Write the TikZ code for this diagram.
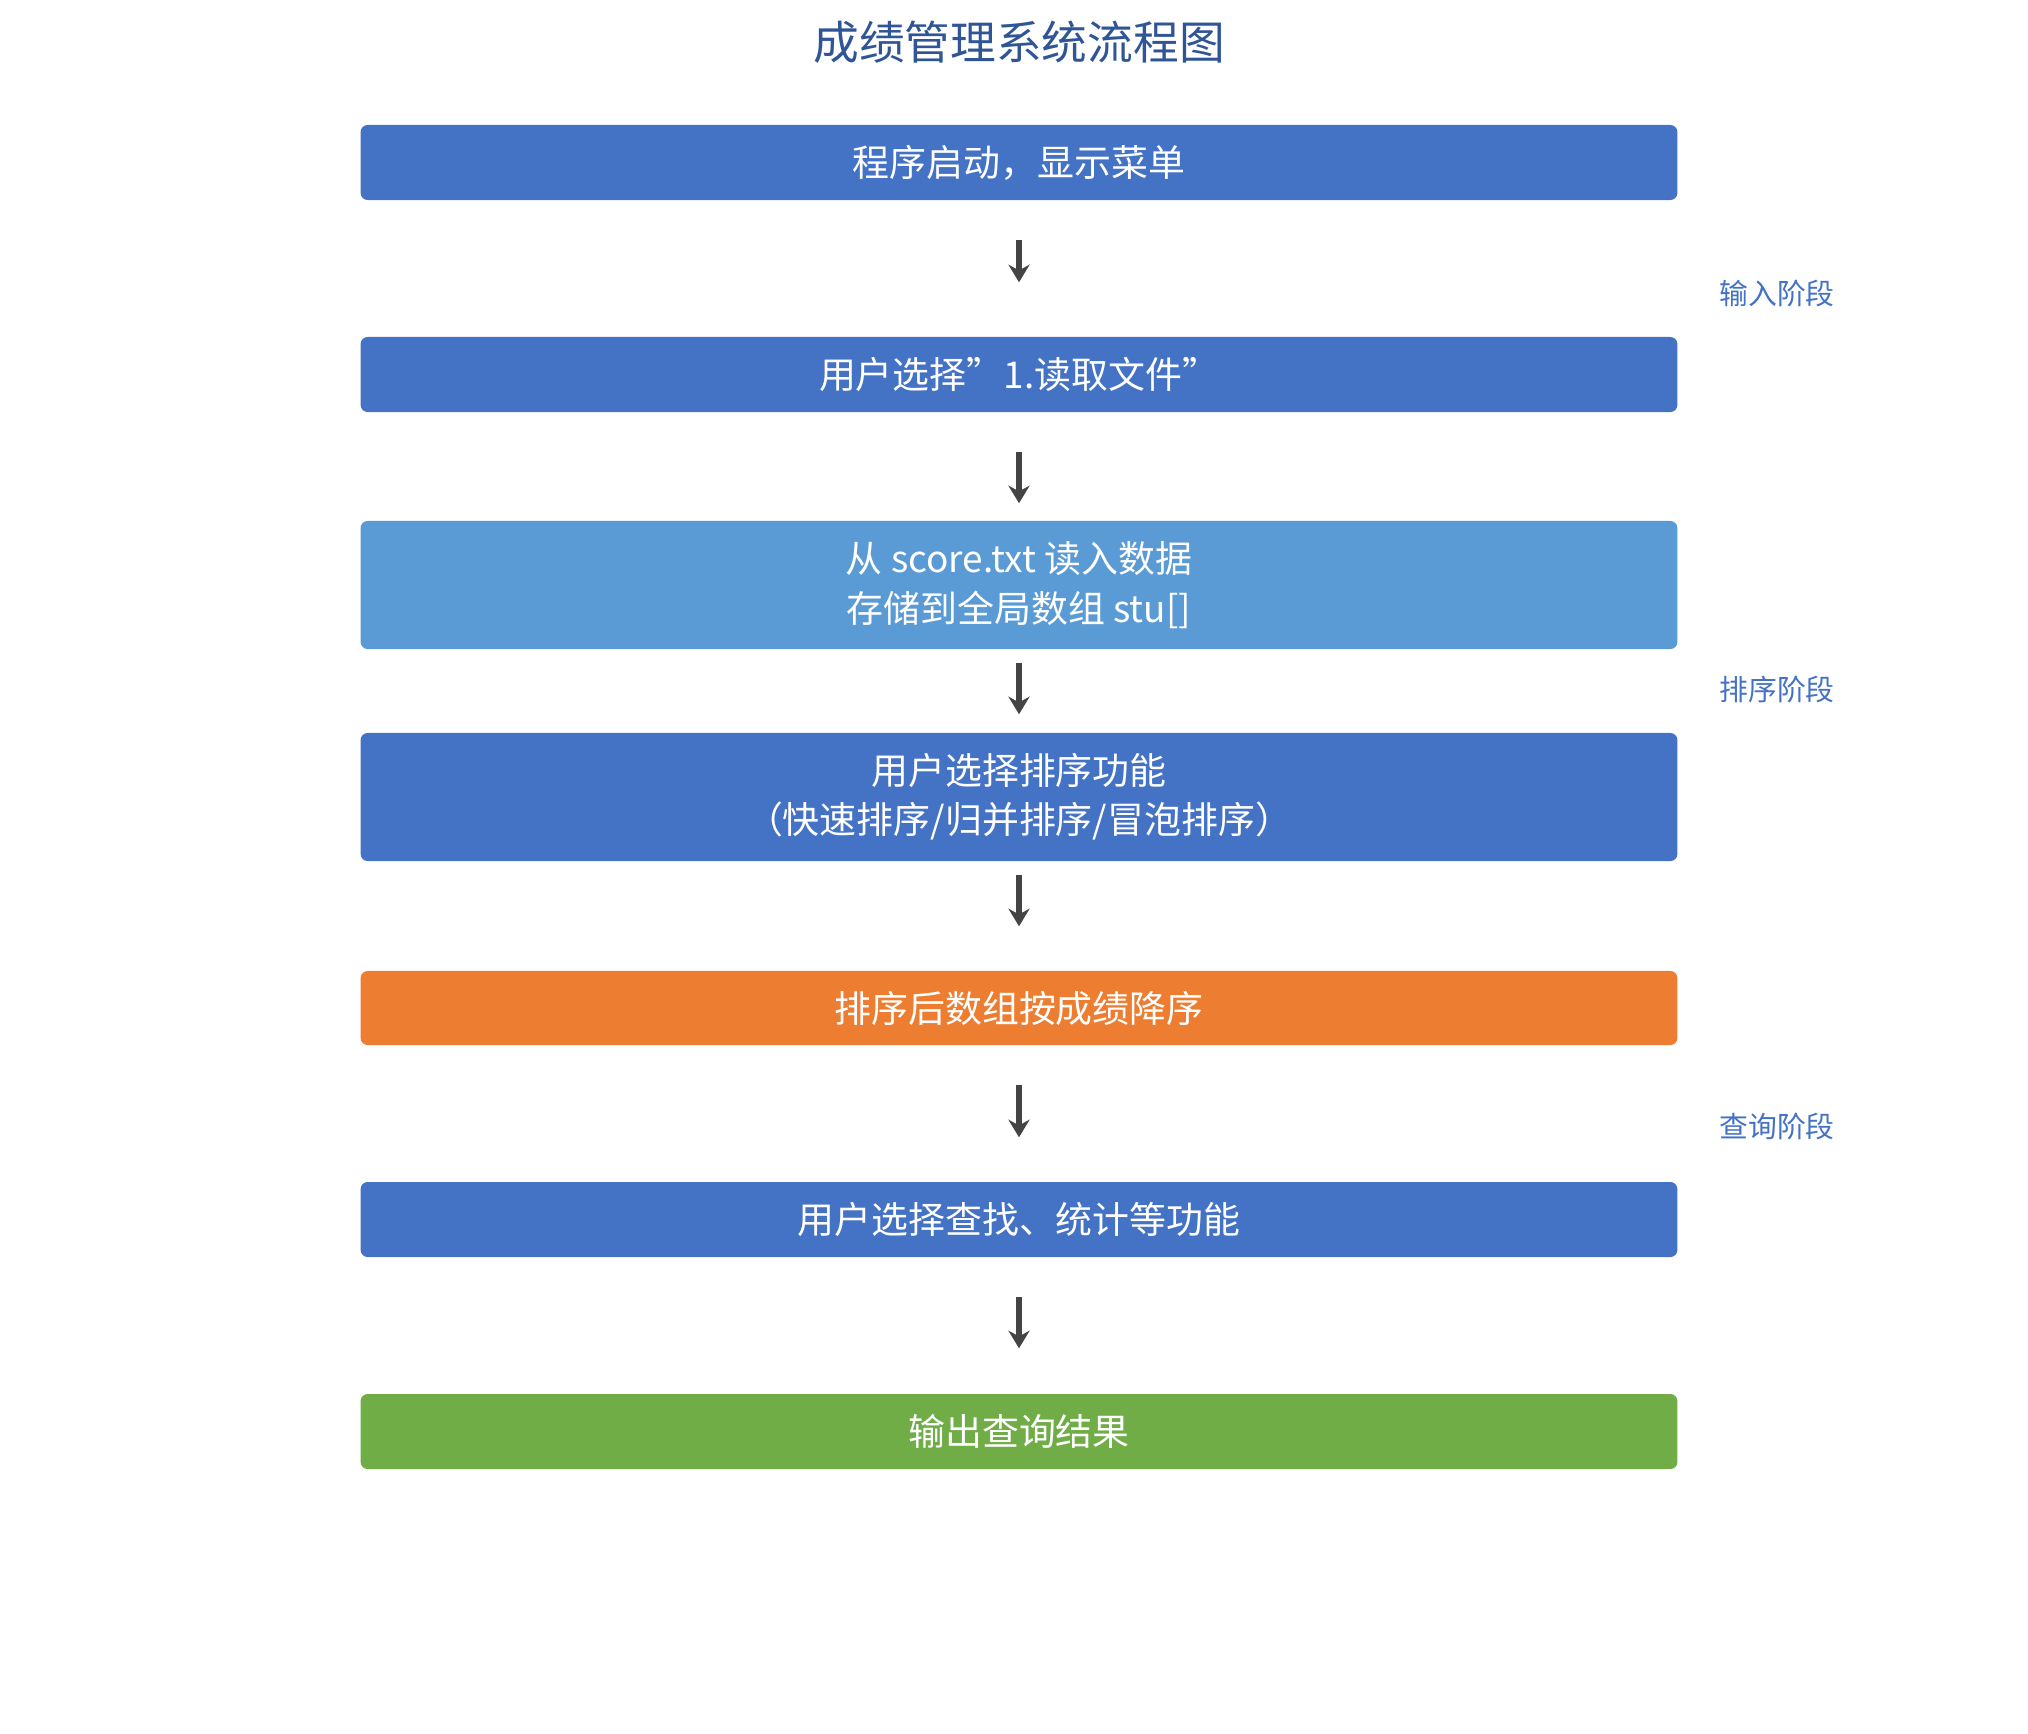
\documentclass[tikz,border=0pt]{standalone}
\usepackage{fontspec}
\setmainfont{Noto Sans CJK SC}
\usetikzlibrary{arrows.meta,calc}
\definecolor{cblue}{HTML}{4472C4}
\definecolor{clblue}{HTML}{5B9BD5}
\definecolor{corange}{HTML}{ED7D31}
\definecolor{cgreen}{HTML}{70AD47}
\definecolor{ctitle}{HTML}{2F5597}
\definecolor{carrow}{HTML}{444444}
\begin{document}
\begin{tikzpicture}[x=0.01cm,y=-0.01cm,
  box/.style={draw=none,rounded corners=2pt,minimum width=13.16cm,text=white,align=center,font=\fontsize{10.5pt}{14pt}\selectfont,inner sep=0pt},
  lab/.style={text=cblue,font=\fontsize{8.2pt}{10pt}\selectfont},
  arr/.style={-{Stealth[length=5pt,width=6pt]},line width=1.6pt,draw=carrow}]
\useasboundingbox (0,0) rectangle (2028,1733);
\node[text=ctitle,font=\fontsize{13pt}{16pt}\selectfont] (title) at (1019,42) {成绩管理系统流程图};
\node[box,fill=cblue,minimum height=0.75cm] (b1) at (1019,162.5) {程序启动，显示菜单};
\node[box,fill=cblue,minimum height=0.75cm] (b2) at (1019,374.5) {用户选择"1.读取文件"};
\node[box,fill=clblue,minimum height=1.28cm] (b3) at (1019,585) {从 score.txt 读入数据\\存储到全局数组 stu[]};
\node[box,fill=cblue,minimum height=1.28cm] (b4) at (1019,797) {用户选择排序功能\\（快速排序/归并排序/冒泡排序）};
\node[box,fill=corange,minimum height=0.74cm] (b5) at (1019,1008) {排序后数组按成绩降序};
\node[box,fill=cblue,minimum height=0.75cm] (b6) at (1019,1219.5) {用户选择查找、统计等功能};
\node[box,fill=cgreen,minimum height=0.75cm] (b7) at (1019,1431.5) {输出查询结果};
\node[lab] (l1) at (1777,294) {输入阶段};
\node[lab] (l2) at (1777,690) {排序阶段};
\node[lab] (l3) at (1777,1126) {查询阶段};
\foreach \a/\b/\ga/\gb in {b1/b2/39/54, b2/b3/39/17, b3/b4/13/18, b4/b5/13/44, b5/b6/39/44, b6/b7/39/45}{
  \draw[arr] ($(\a.south)+(0,\ga)$) -- ($(\b.north)-(0,\gb)$);
}
\end{tikzpicture}
\end{document}
